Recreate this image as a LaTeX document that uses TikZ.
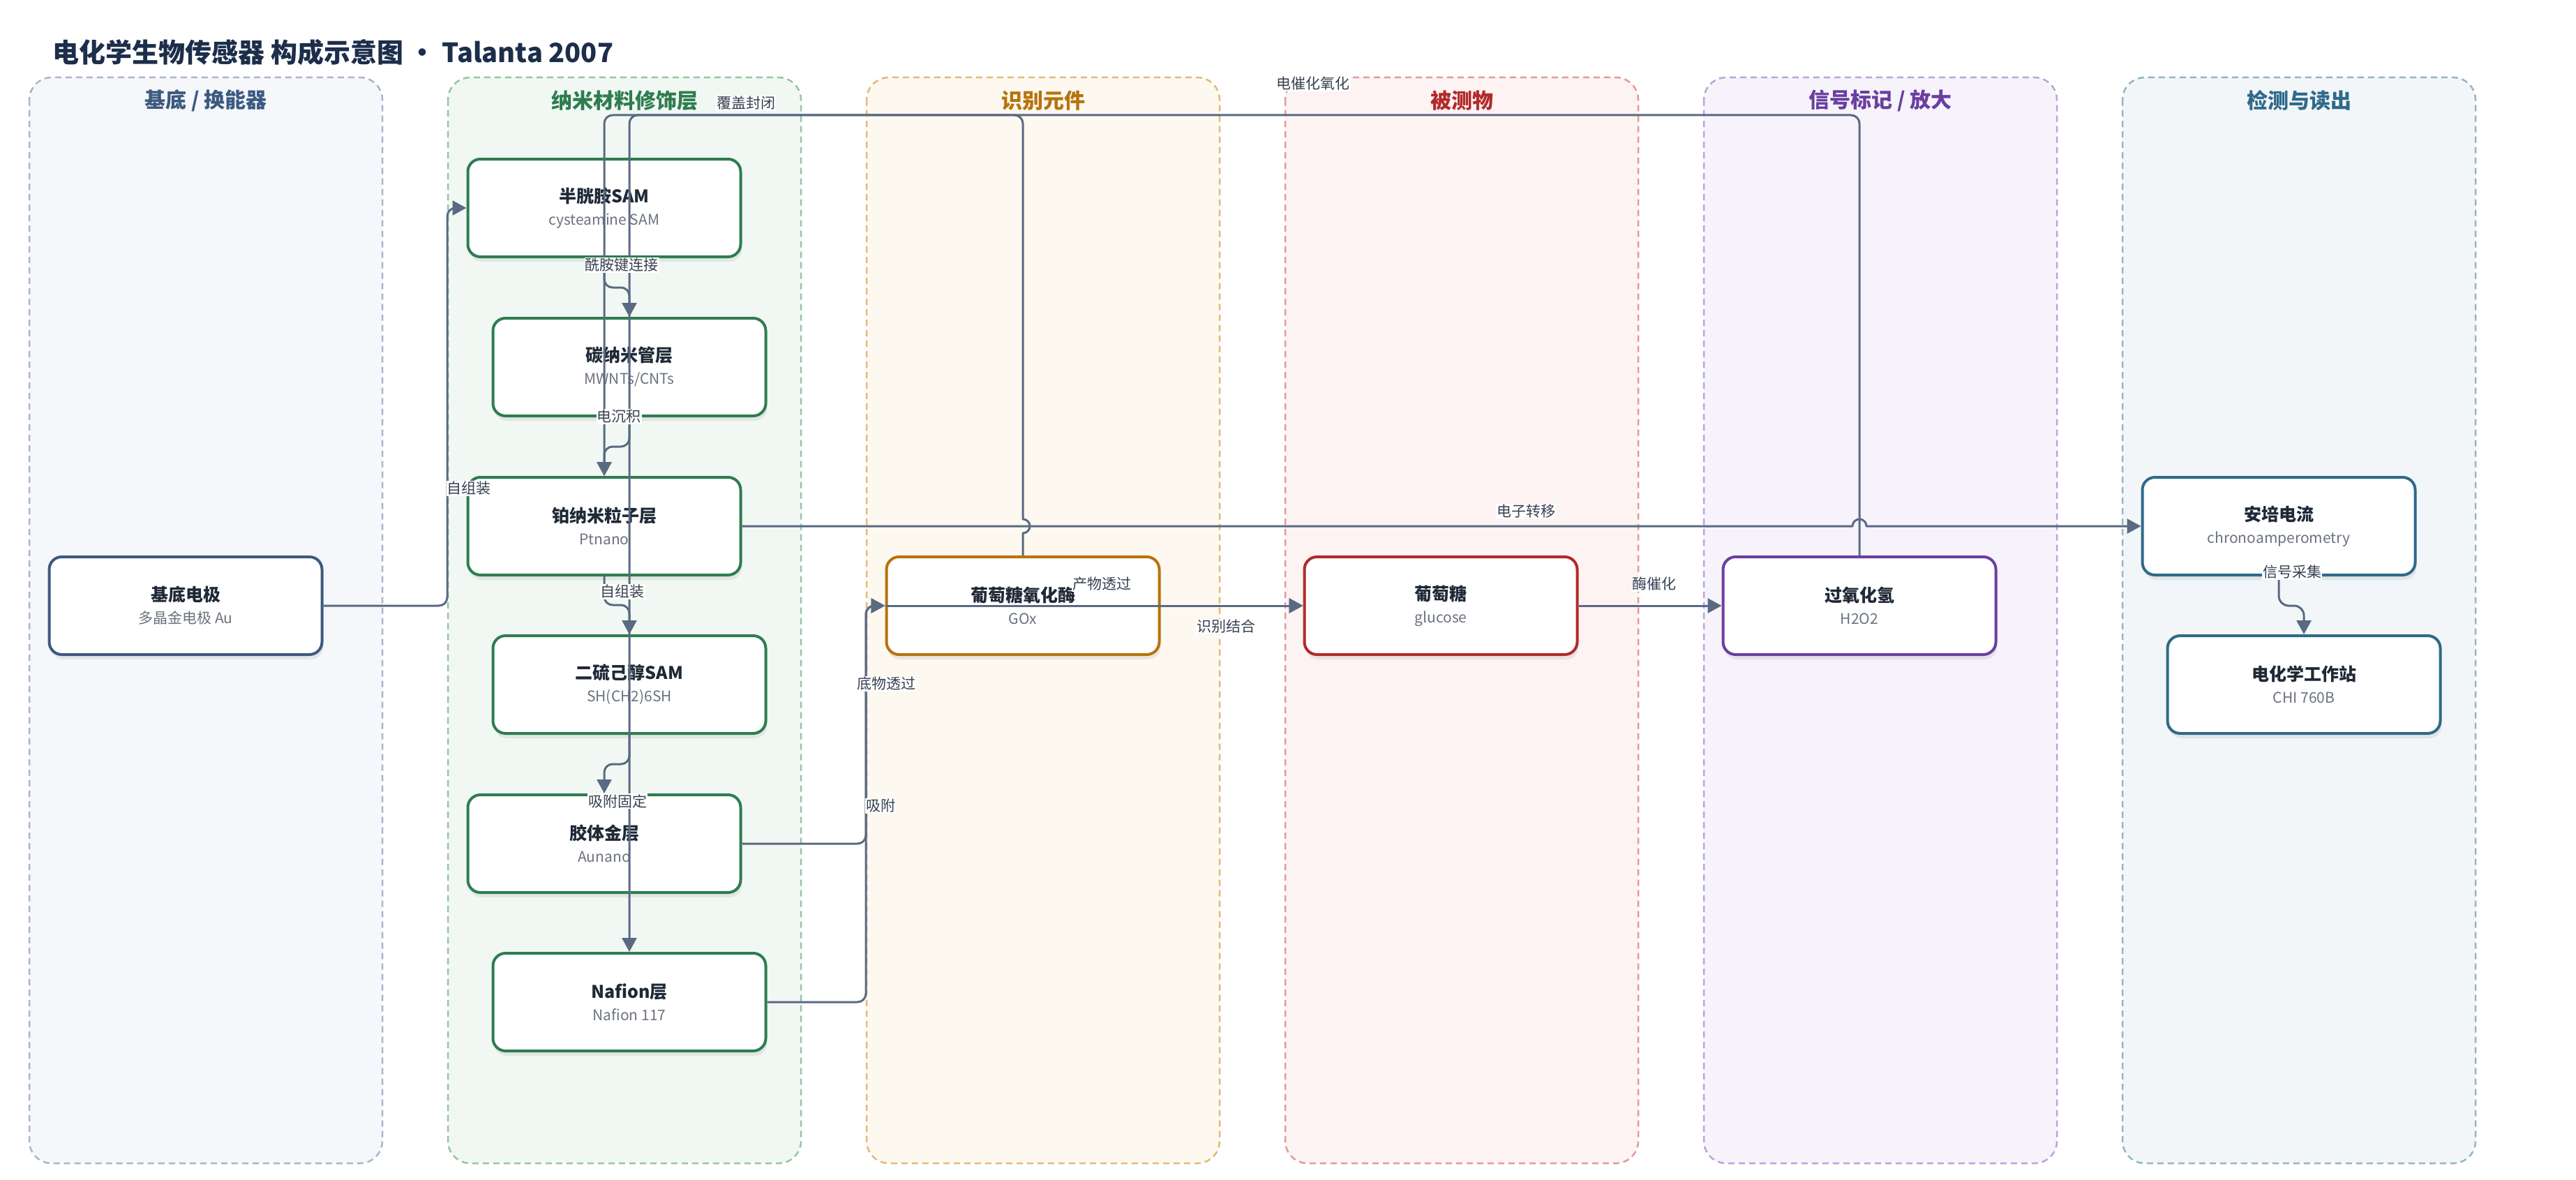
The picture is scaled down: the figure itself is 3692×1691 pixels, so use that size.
\documentclass[tikz,border=0pt]{standalone}
\usepackage{fontspec}
\setmainfont{Noto Sans CJK SC}
\usetikzlibrary{arrows.meta,shadows}
\definecolor{titleNavy}{RGB}{28,46,74}
\definecolor{flowGray}{RGB}{90,106,130}
\definecolor{tagGray}{RGB}{55,65,81}
\definecolor{inkDark}{RGB}{31,41,55}
\definecolor{inkSub}{RGB}{107,114,128}
\definecolor{baseLine}{RGB}{168,181,201}
\definecolor{baseFill}{RGB}{245,247,251}
\definecolor{baseInk}{RGB}{61,90,128}
\definecolor{nanoLine}{RGB}{147,198,162}
\definecolor{nanoFill}{RGB}{241,248,243}
\definecolor{nanoInk}{RGB}{46,125,79}
\definecolor{recLine}{RGB}{227,185,122}
\definecolor{recFill}{RGB}{253,248,240}
\definecolor{recInk}{RGB}{184,115,12}
\definecolor{anaLine}{RGB}{227,154,154}
\definecolor{anaFill}{RGB}{252,243,242}
\definecolor{anaInk}{RGB}{178,42,42}
\definecolor{sigLine}{RGB}{187,162,220}
\definecolor{sigFill}{RGB}{246,243,251}
\definecolor{sigInk}{RGB}{106,63,160}
\definecolor{detLine}{RGB}{147,181,196}
\definecolor{detFill}{RGB}{243,246,248}
\definecolor{detInk}{RGB}{46,106,138}
\newcommand{\parttext}[2]{{\fontsize{25}{32}\selectfont\bfseries\color{inkDark}#1}\\{\color{inkSub}#2}}
\tikzset{
    lane/.style={rounded corners=32pt, line width=2.5pt, dash pattern=on 9pt off 6pt},
    laneTitle/.style={font=\fontsize{30}{36}\selectfont\bfseries},
    part/.style={rectangle, rounded corners=18pt, draw=#1, line width=4pt, fill=white,
                 minimum width=391pt, minimum height=140pt, align=center,
                 font=\fontsize{21}{32}\selectfont,
                 drop shadow={opacity=0.14, shadow xshift=2pt, shadow yshift=-7pt}},
    flow/.style={-{Triangle[length=20pt,width=21pt]}, line width=3pt, draw=flowGray, line join=round},
    tag/.style={font=\fontsize{21}{24}\selectfont, text=tagGray, fill=white, inner sep=1pt}
}
\begin{document}
\begin{tikzpicture}[x=1pt, y=-1pt]
  \useasboundingbox (0,0) rectangle (3692,1691);

  % Title
  \node[anchor=west, font=\fontsize{38}{44}\selectfont\bfseries, text=titleNavy] (title) at (72,75)
    {电化学生物传感器 构成示意图 • Talanta 2007};

  % Lanes
  \draw[lane, draw=baseLine, fill=baseFill] (42,111) rectangle (548,1667);
  \draw[lane, draw=nanoLine, fill=nanoFill] (642,111) rectangle (1148,1667);
  \draw[lane, draw=recLine, fill=recFill] (1242,111) rectangle (1748,1667);
  \draw[lane, draw=anaLine, fill=anaFill] (1842,111) rectangle (2348,1667);
  \draw[lane, draw=sigLine, fill=sigFill] (2442,111) rectangle (2948,1667);
  \draw[lane, draw=detLine, fill=detFill] (3042,111) rectangle (3548,1667);
  \node[laneTitle, text=baseInk] (tBase) at (295,144) {基底 / 换能器};
  \node[laneTitle, text=nanoInk] (tNano) at (895,144) {纳米材料修饰层};
  \node[laneTitle, text=recInk] (tRec) at (1495,144) {识别元件};
  \node[laneTitle, text=anaInk] (tAna) at (2095,144) {被测物};
  \node[laneTitle, text=sigInk] (tSig) at (2695,144) {信号标记 / 放大};
  \node[laneTitle, text=detInk] (tDet) at (3295,144) {检测与读出};

  % Parts
  \node[part=baseInk] (sub) at (266,868) {\parttext{基底电极}{多晶金电极 Au}};
  \node[part=nanoInk] (sam) at (866,298) {\parttext{半胱胺SAM}{cysteamine SAM}};
  \node[part=nanoInk] (cnt) at (902,526) {\parttext{碳纳米管层}{MWNTs/CNTs}};
  \node[part=nanoInk] (pt) at (866,754) {\parttext{铂纳米粒子层}{Ptnano}};
  \node[part=nanoInk] (dith) at (902,981) {\parttext{二硫己醇SAM}{SH(CH2)6SH}};
  \node[part=nanoInk] (au) at (866,1209) {\parttext{胶体金层}{Aunano}};
  \node[part=nanoInk] (naf) at (902,1436) {\parttext{Nafion层}{Nafion 117}};
  \node[part=recInk] (gox) at (1466,868) {\parttext{葡萄糖氧化酶}{GOx}};
  \node[part=anaInk] (glu) at (2065,868) {\parttext{葡萄糖}{glucose}};
  \node[part=sigInk] (hyd) at (2665,868) {\parttext{过氧化氢}{H2O2}};
  \node[part=detInk] (amp) at (3266,754) {\parttext{安培电流}{chronoamperometry}};
  \node[part=detInk] (cws) at (3302,981) {\parttext{电化学工作站}{CHI 760B}};

  % Links
  \draw[flow, rounded corners=12pt] (sub.east) -- (641,868) -- (641,298) -- (sam.west);
  \draw[flow, rounded corners=12pt] (sam.south) -- (866,412) -- (902,412) -- (cnt.north);
  \draw[flow, rounded corners=12pt] (cnt.south) -- (902,640) -- (866,640) -- (pt.north);
  \draw[flow, rounded corners=12pt] (pt.south) -- (866,867) -- (902,867) -- (dith.north);
  \draw[flow, rounded corners=12pt] (dith.south) -- (902,1095) -- (866,1095) -- (au.north);
  \draw[flow, rounded corners=12pt] (au.east) -- (1241,1209) -- (1241,868) -- (gox.west);
  \draw[flow, rounded corners=12pt] (naf.east) -- (1241,1436) -- (1241,868) -- (gox.west);
  \draw[flow] (gox.east) -- (glu.west);
  \draw[flow] (gox.west) -- (glu.west);
  \draw[flow] (glu.east) -- (hyd.west);
  \draw[flow, rounded corners=12pt] (hyd.north) -- (2665,165) -- (866,165) -- (pt.north);
  \draw[flow] (gox.north) -- (1466,764) arc[start angle=90, end angle=-90, radius=10]
    [rounded corners=12pt] -- (1466,165) -- (902,165) -- (naf.north);
  \draw[flow] (pt.east) -- (2655,754) arc[start angle=180, end angle=360, radius=10] -- (amp.west);
  \draw[flow, rounded corners=14pt] (amp.south) -- (3266,868) -- (3302,868) -- (cws.north);

  % Link labels
  \node[tag] (lSam) at (672,700) {自组装};
  \node[tag] (lCnt) at (891,380) {酰胺键连接};
  \node[tag] (lPt) at (887,597) {电沉积};
  \node[tag] (lDith) at (892,848) {自组装};
  \node[tag] (lAu) at (885,1148) {吸附固定};
  \node[tag] (lAuGox) at (1262,1155) {吸附};
  \node[tag] (lNafGox) at (1270,980) {底物透过};
  \node[tag] (lProd) at (1579,837) {产物透过};
  \node[tag] (lBind) at (1757,898) {识别结合};
  \node[tag] (lEnz) at (2371,837) {酶催化};
  \node[tag] (lOx) at (1882,120) {电催化氧化};
  \node[tag] (lSeal) at (1069,148) {覆盖封闭};
  \node[tag] (lElec) at (2187,733) {电子转移};
  \node[tag] (lSig) at (3285,820) {信号采集};
\end{tikzpicture}
\end{document}
